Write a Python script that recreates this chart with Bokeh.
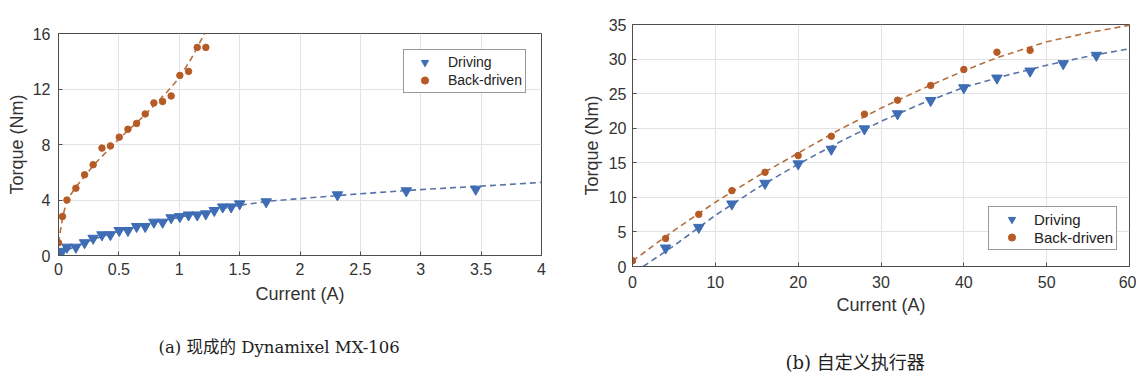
from bokeh.plotting import figure
from bokeh.models import (FixedTicker, Legend, LegendItem, Title, Range1d, Spacer)
from bokeh.layouts import row, column
from bokeh.embed import file_html
from bokeh.resources import INLINE

# ---------------- data: (a) Dynamixel MX-106 ----------------
a_drive_x = [0.0, 0.03, 0.07, 0.144, 0.216, 0.287, 0.36, 0.43, 0.503, 0.575, 0.647, 0.718,
             0.79, 0.862, 0.933, 1.005, 1.077, 1.149, 1.22, 1.29, 1.36, 1.43, 1.50, 1.72,
             2.31, 2.88, 3.455]
a_drive_y = [0.0, 0.3, 0.6, 0.6, 0.92, 1.24, 1.49, 1.5, 1.8, 1.8, 2.09, 2.09,
             2.4, 2.4, 2.72, 2.8, 2.92, 2.92, 3.0, 3.24, 3.5, 3.5, 3.72, 3.87,
             4.37, 4.66, 4.78]
a_back_x = [0.0, 0.033, 0.07, 0.144, 0.216, 0.287, 0.36, 0.43, 0.503, 0.575, 0.647, 0.718,
            0.79, 0.862, 0.933, 1.005, 1.077, 1.149, 1.22]
a_back_y = [0.92, 2.81, 4.0, 4.85, 5.82, 6.54, 7.74, 7.9, 8.53, 9.1, 9.52, 10.2,
            11.0, 11.1, 11.5, 12.98, 13.27, 15.0, 15.0]
a_drive_fit_x = [0.0, 0.1, 0.3, 0.5, 0.75, 1.0, 1.25, 1.5, 1.75, 2.0, 2.5, 3.0, 3.5, 4.0]
a_drive_fit_y = [0.0, 0.5, 1.2, 1.75, 2.3, 2.75, 3.2, 3.62, 3.92, 4.1, 4.45, 4.75, 5.0, 5.27]
a_back_fit_x = [0.0, 0.02, 0.035, 0.07, 0.15, 0.3, 0.5, 0.7, 0.9, 1.0, 1.1, 1.21]
a_back_fit_y = [0.9, 2.0, 2.8, 4.0, 5.0, 6.6, 8.4, 10.0, 11.8, 12.8, 14.2, 16.0]
a_xticks = [0, 0.5, 1, 1.5, 2, 2.5, 3, 3.5, 4]
a_yticks = [0, 4, 8, 12, 16]

# ---------------- data: (b) custom actuator ----------------
b_drive_x = [4, 8, 12, 16, 20, 24, 28, 32, 36, 40, 44, 48, 52, 56]
b_drive_y = [2.67, 5.65, 9.04, 12.03, 14.84, 16.96, 19.9, 22.08, 24.0, 25.85, 27.25, 28.26, 29.33, 30.54]
b_back_x = [0, 4, 8, 12, 16, 20, 24, 28, 32, 36, 40, 44, 48]
b_back_y = [0.83, 4.06, 7.54, 10.97, 13.63, 16.04, 18.84, 22.03, 24.06, 26.19, 28.5, 31.0, 31.26]
b_drive_fit_x = [1.3, 5, 10, 15, 20, 25, 30, 35, 40, 45, 50, 55, 60]
b_drive_fit_y = [0.0, 3.0, 7.4, 11.3, 14.8, 18.0, 21.0, 23.6, 25.9, 27.6, 29.1, 30.4, 31.5]
b_back_fit_x = [0, 5, 10, 15, 20, 25, 30, 35, 40, 44, 50, 55, 60]
b_back_fit_y = [0.8, 5.2, 9.3, 13.0, 16.4, 19.8, 22.9, 25.7, 28.3, 30.2, 32.5, 33.8, 34.9]
b_xticks = [0, 10, 20, 30, 40, 50, 60]
b_yticks = [0, 5, 10, 15, 20, 25, 30, 35]

series_names = ["Driving", "Back-driven"]
captions = ["(a)  现成的 Dynamixel MX-106", "(b) 自定义执行器"]

BLUE = "#3E6DB5"
BLUE_LINE = "#5873A6"
ORANGE = "#B65A26"
ORANGE_LINE = "#B5703F"
AX = "#4D4D4D"
FONT = "Liberation Sans"
CAP_FONT = "DejaVu Serif, Noto Sans CJK SC"


def style(p, xt, yt):
    p.xaxis.ticker = FixedTicker(ticks=xt)
    p.yaxis.ticker = FixedTicker(ticks=yt)
    p.xaxis.major_label_overrides = {t: f"{t:g}" for t in xt}
    p.yaxis.major_label_overrides = {t: f"{t:g}" for t in yt}
    for ax in p.xaxis + p.yaxis:
        ax.major_tick_in = 4
        ax.major_tick_out = 0
        ax.minor_tick_in = 0
        ax.minor_tick_out = 0
        ax.axis_line_color = AX
        ax.major_tick_line_color = AX
        ax.major_label_text_font = FONT
        ax.major_label_text_font_size = "16px"
        ax.major_label_text_color = "#333333"
        ax.axis_label_text_font = FONT
        ax.axis_label_text_font_size = "18px"
        ax.axis_label_text_font_style = "normal"
        ax.axis_label_text_color = "#333333"
    p.xgrid.ticker = FixedTicker(ticks=xt)
    p.ygrid.ticker = FixedTicker(ticks=yt)
    p.grid.grid_line_color = "#E3E3E3"
    p.grid.grid_line_width = 1
    p.outline_line_color = AX
    p.outline_line_width = 1


def make(xr, yr, xt, yt, dfx, dfy, bfx, bfy, dx, dy, bx, by, fw, fh, bl, bt, br, bb,
         leg_loc, glyph_w, standoff, leg_font, cap, cap_off, cap_stand, cap_size,
         xstand, ystand, xlab_stand, ylab_stand):
    p = figure(frame_width=fw, frame_height=fh,
               x_range=Range1d(*xr), y_range=Range1d(*yr),
               output_backend="svg", toolbar_location=None,
               min_border_left=bl, min_border_top=bt, min_border_right=br, min_border_bottom=bb,
               x_axis_label="Current (A)", y_axis_label="Torque (Nm)")
    p.title.visible = False
    p.background_fill_color = "white"
    p.border_fill_color = "white"
    style(p, xt, yt)
    p.xaxis[0].major_label_standoff = xstand
    p.yaxis[0].major_label_standoff = ystand
    p.xaxis[0].axis_label_standoff = xlab_stand
    p.yaxis[0].axis_label_standoff = ylab_stand
    p.line(dfx, dfy, line_color=BLUE_LINE, line_width=1.6, line_dash="6 4")
    p.line(bfx, bfy, line_color=ORANGE_LINE, line_width=1.6, line_dash="6 4")
    r1 = p.scatter(dx, dy, marker="inverted_triangle", size=10.5, fill_color=BLUE, line_color=BLUE)
    r2 = p.scatter(bx, by, marker="circle", size=6.5, fill_color=ORANGE, line_color=ORANGE)
    leg = Legend(items=[LegendItem(label=series_names[0], renderers=[r1]),
                        LegendItem(label=series_names[1], renderers=[r2])],
                 location=leg_loc, margin=0, padding=3, spacing=0,
                 glyph_width=glyph_w, glyph_height=18, label_height=18,
                 label_standoff=standoff, label_text_font=FONT,
                 label_text_font_size=leg_font, label_text_color="#222222",
                 border_line_color="#333333", border_line_width=1,
                 background_fill_color="white", background_fill_alpha=1)
    p.add_layout(leg, "center")
    p.add_layout(Title(text=cap, align="left", offset=cap_off, standoff=cap_stand,
                       text_font=CAP_FONT, text_font_size=cap_size, text_font_style="normal",
                       text_color="#222222"), "below")
    return p


p1 = make((0, 4), (0, 16), a_xticks, a_yticks, a_drive_fit_x, a_drive_fit_y,
          a_back_fit_x, a_back_fit_y, a_drive_x, a_drive_y, a_back_x, a_back_y,
          483, 222, 58, 24, 33, 109,
          (345, 162), 35, 6, "14px", captions[0], 100, 59, "16.5px", 7, 8, 6, 3)
p2 = make((0, 60), (0, 35), b_xticks, b_yticks, b_drive_fit_x, b_drive_fit_y,
          b_back_fit_x, b_back_fit_y, b_drive_x, b_drive_y, b_back_x, b_back_y,
          497, 242, 58, 24, 7, 98,
          (356, 16), 39, 3, "15px", captions[1], 153, 64, "18px", 9, 6, 4, 4)

layout = row(column(Spacer(height=9), p1), p2)
open("out.html", "w").write(file_html(layout, INLINE))
